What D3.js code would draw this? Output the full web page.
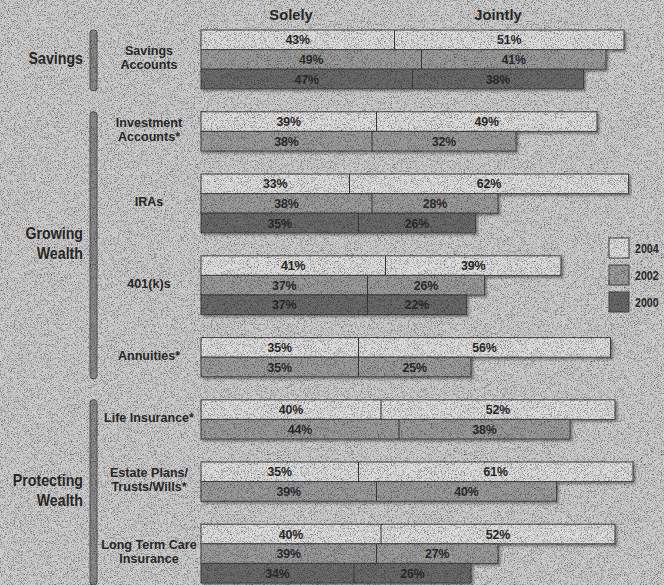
<!DOCTYPE html>
<html>
<head>
<meta charset="utf-8">
<script src="https://cdn.jsdelivr.net/npm/d3@7"></script>
<style>
  body { margin: 0; background: #c9c9c9; }
  svg { display: block; }
  text { font-family: "Liberation Sans", Arial, sans-serif; font-weight: bold; fill: #2b2b2b; }
</style>
</head>
<body>
<div id="chart"></div>
<script>
// data
const categories = ["Savings Accounts", "Investment Accounts*", "IRAs", "401(k)s", "Annuities*",
  "Life Insurance*", "Estate Plans/ Trusts/Wills*", "Long Term Care Insurance"]
const catLines = [["Savings", "Accounts"], ["Investment", "Accounts*"], ["IRAs"], ["401(k)s"], ["Annuities*"],
  ["Life Insurance*"], ["Estate Plans/", "Trusts/Wills*"], ["Long Term Care", "Insurance"]]
const years = ["2004", "2002", "2000"]
const solely = [[43, 49, 47], [39, 38], [33, 38, 35], [41, 37, 37], [35, 35], [40, 44], [35, 39], [40, 39, 34]]
const jointly = [[51, 41, 38], [49, 32], [62, 28, 26], [39, 26, 22], [56, 25], [52, 38], [61, 40], [52, 27, 26]]
const groupNames = [["Savings"], ["Growing", "Wealth"], ["Protecting", "Wealth"]]
const groupOf = [0, 1, 1, 1, 1, 2, 2, 2]
const columns = ["Solely", "Jointly"]

const svgWidth = 664
const svgHeight = 585
const barH = 19.6
const gap = 23
const top0 = 30

const colors = d3.scaleOrdinal().domain(years).range(["#dcdcdc", "#9b9b9b", "#6a6a6a"])
const x = d3.scaleLinear().domain([0, 100]).range([201, 651])

const svg = d3.select("#chart").append("svg")
    .attr("width", svgWidth)
    .attr("height", svgHeight)

// squeeze text to look like a condensed face
function narrow(sel, k) {
  sel.each(function() {
    const w = this.getComputedTextLength()
    d3.select(this).attr("textLength", w * k).attr("lengthAdjust", "spacingAndGlyphs")
  })
}

// grain like the scanned original
const defs = svg.append("defs")
const f = defs.append("filter").attr("id", "grain").attr("x", 0).attr("y", 0).attr("width", "100%").attr("height", "100%")
f.append("feTurbulence").attr("type", "fractalNoise").attr("baseFrequency", 1.3).attr("numOctaves", 1).attr("seed", 3).attr("result", "n")
f.append("feColorMatrix").attr("type", "matrix")
    .attr("values", "0 0 0 0 0  0 0 0 0 0  0 0 0 0 0  0 0 0 -2.6 1.35")
const sh = defs.append("filter").attr("id", "shadow").attr("x", -0.05).attr("y", -0.2).attr("width", 1.1).attr("height", 1.6)
sh.append("feDropShadow").attr("dx", 2).attr("dy", 2).attr("stdDeviation", 1.2).attr("flood-color", "#000").attr("flood-opacity", 0.35)

svg.append("rect").attr("width", svgWidth).attr("height", svgHeight).attr("fill", "#cbcbcb")

// rows laid out one after another
const rows = []
let yy = top0
categories.forEach((c, i) => {
  const start = yy
  solely[i].forEach((s, j) => {
    rows.push({ cat: i, year: years[j], solely: s, jointly: jointly[i][j], y: yy })
    yy += barH
  })
  categories[i] = { name: c, y0: start, y1: yy }
  yy += gap
})

// column headers
svg.selectAll(".col").data(columns).join("text")
    .attr("x", (d, i) => i == 0 ? 291 : 498)
    .attr("y", 20)
    .attr("text-anchor", "middle")
    .attr("font-size", 15)
    .text(d => d)
    .call(narrow, 0.98)

// bars
const bar = svg.selectAll(".bar").data(rows).join("g").attr("class", "bar")
bar.append("rect")
    .attr("x", x(0))
    .attr("y", d => d.y)
    .attr("width", d => x(d.solely + d.jointly) - x(0))
    .attr("height", barH)
    .attr("fill", d => colors(d.year))
    .attr("stroke", "#444")
    .attr("stroke-width", 1)
    .attr("filter", "url(#shadow)")
bar.append("line")
    .attr("x1", d => x(d.solely)).attr("x2", d => x(d.solely))
    .attr("y1", d => d.y).attr("y2", d => d.y + barH)
    .attr("stroke", "#3a3a3a")
    .attr("stroke-width", 1)
bar.append("text")
    .attr("x", d => (x(0) + x(d.solely)) / 2)
    .attr("y", d => d.y + barH / 2 + 4.5)
    .attr("text-anchor", "middle")
    .attr("font-size", 13)
    .attr("font-weight", "normal")
    .text(d => d.solely + "%")
    .call(narrow, 0.95)
bar.append("text")
    .attr("x", d => (x(d.solely) + x(d.solely + d.jointly)) / 2)
    .attr("y", d => d.y + barH / 2 + 4.5)
    .attr("text-anchor", "middle")
    .attr("font-size", 13)
    .attr("font-weight", "normal")
    .text(d => d.jointly + "%")
    .call(narrow, 0.95)

// category labels
const cl = svg.selectAll(".cat").data(categories).join("text")
    .attr("text-anchor", "middle")
    .attr("font-size", 13.5)
cl.each(function(d, i) {
  const lines = catLines[i]
  const mid = (d.y0 + d.y1) / 2 - 2
  d3.select(this).selectAll("tspan").data(lines).join("tspan")
      .attr("x", 149)
      .attr("y", (l, k) => mid + 4.5 + (k - (lines.length - 1) / 2) * 14.5)
      .text(l => l)
})
cl.selectAll("tspan").call(narrow, 0.93)

// group brackets and labels
const groups = groupNames.map((g, gi) => {
  const cats = categories.filter((c, i) => groupOf[i] == gi)
  return { lines: g, y0: cats[0].y0, y1: cats[cats.length - 1].y1 }
})
svg.selectAll(".brk").data(groups).join("rect")
    .attr("x", 90).attr("width", 7)
    .attr("y", d => d.y0).attr("height", d => d.y1 - d.y0 + 2)
    .attr("rx", 3)
    .attr("fill", "#8a8a8a")
    .attr("stroke", "#555")
    .attr("stroke-width", 1)
const gl = svg.selectAll(".grp").data(groups).join("text")
    .attr("text-anchor", "end")
    .attr("font-size", 16.5)
gl.each(function(d) {
  const mid = (d.y0 + d.y1) / 2
  d3.select(this).selectAll("tspan").data(d.lines).join("tspan")
      .attr("x", 83)
      .attr("y", (l, k) => mid + 5 + (k - (d.lines.length - 1) / 2) * 20)
      .text(l => l)
})
gl.selectAll("tspan").call(narrow, 0.86)

// legend
const lg = svg.selectAll(".lg").data(years).join("g")
    .attr("transform", (d, i) => `translate(609, ${238 + i * 27})`)
lg.append("rect").attr("width", 20).attr("height", 20)
    .attr("fill", d => colors(d)).attr("stroke", "#444")
lg.append("text").attr("x", 26).attr("y", 15).attr("font-size", 13).text(d => d)
    .call(narrow, 0.82)

svg.append("rect").attr("width", svgWidth).attr("height", svgHeight)
    .attr("filter", "url(#grain)").attr("opacity", 0.6).style("pointer-events", "none")
</script>
</body>
</html>
